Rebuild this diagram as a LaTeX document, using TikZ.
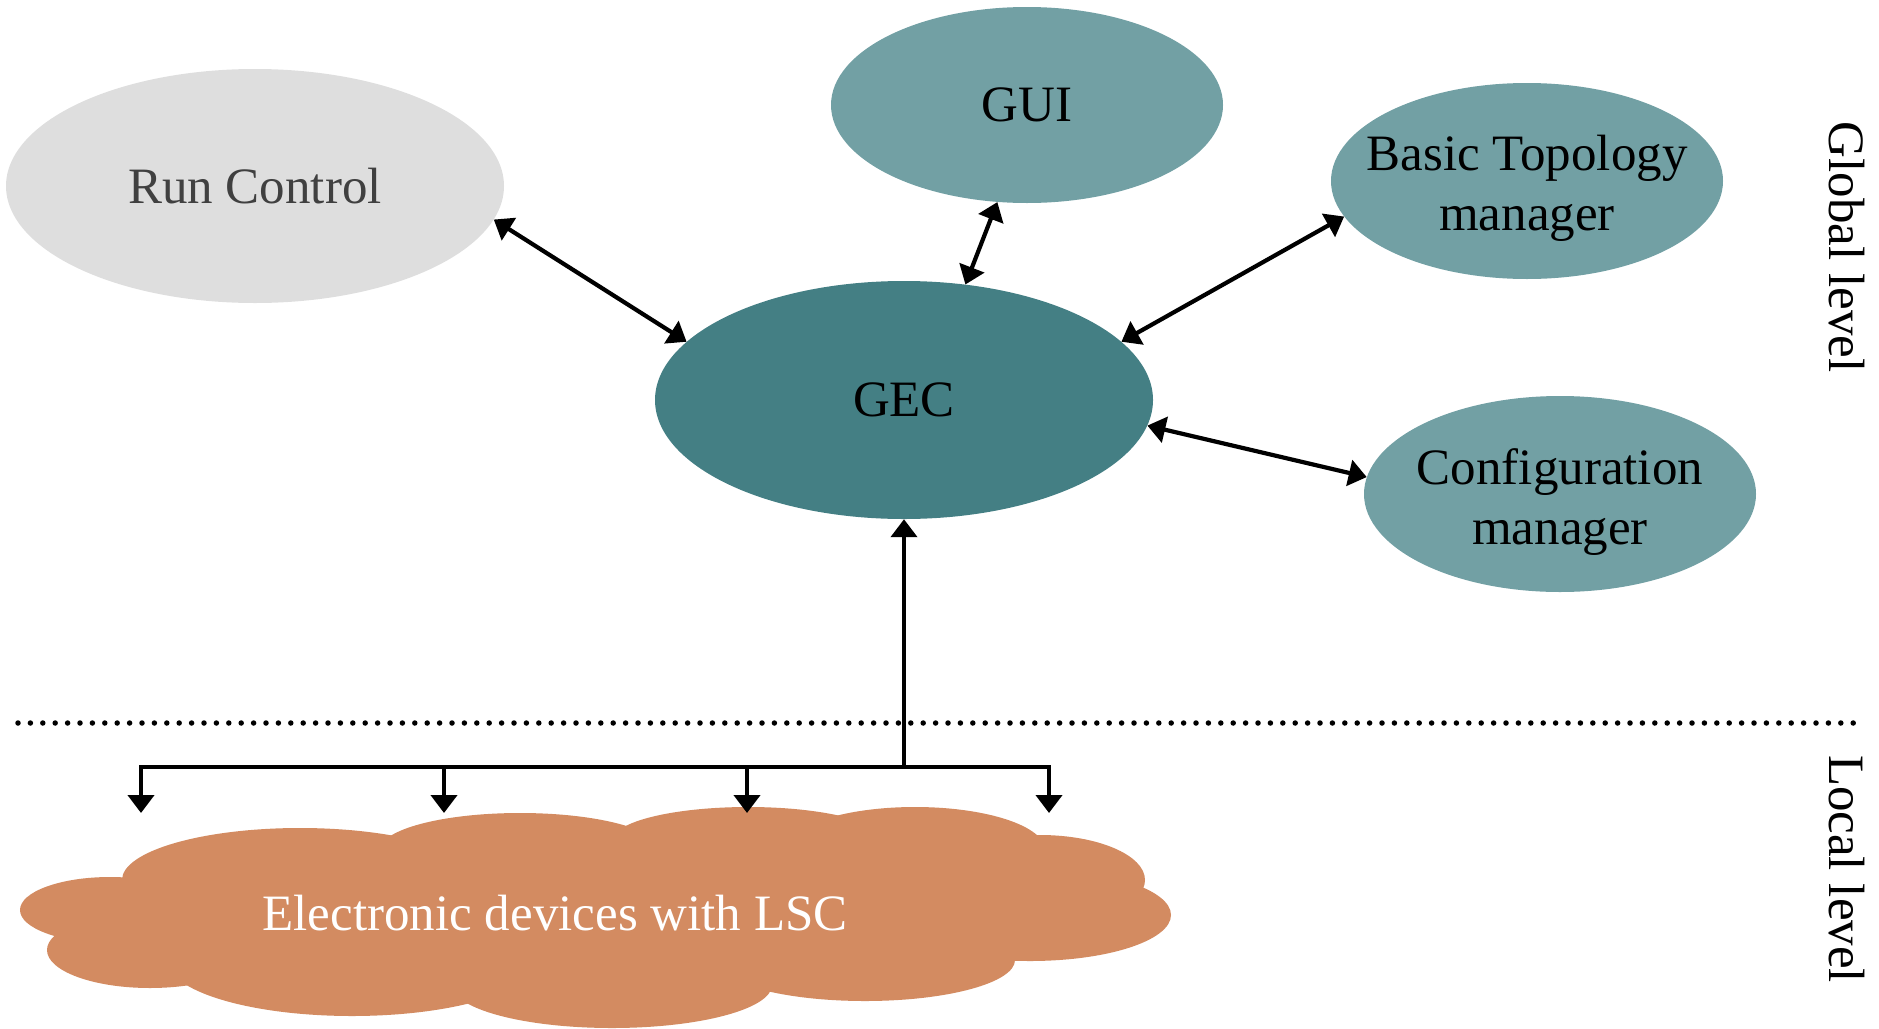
\documentclass[tikz,border=0pt]{standalone}
\usepackage{fontspec}
\setmainfont{Liberation Serif}
\usetikzlibrary{shapes.geometric,arrows.meta}
\definecolor{rcgray}{HTML}{DEDEDE}
\definecolor{rctext}{HTML}{404040}
\definecolor{tealL}{HTML}{72A0A4}
\definecolor{tealD}{HTML}{447F84}
\definecolor{cloudc}{HTML}{D38B61}
\tikzset{
  bigfont/.style={font=\fontsize{51}{60}\selectfont},
  ell/.style={ellipse, draw=none, inner sep=0pt, align=center, bigfont},
  conn/.style={line width=4.2pt, {Triangle[length=18pt,width=26pt]}-{Triangle[length=18pt,width=26pt]}},
  oneway/.style={line width=4.2pt, -{Triangle[length=18pt,width=26pt]}},
  plain/.style={line width=4.2pt},
  lobe/.style={fill=cloudc}
}
\begin{document}
\begin{tikzpicture}[x=1pt,y=-1pt]
\path[use as bounding box] (0,0) rectangle (1879,1028);

% nodes
\node[ell, fill=rcgray, text=rctext, minimum width=498pt, minimum height=234pt] (rc) at (255,186) {Run Control};
\node[ell, fill=tealL, minimum width=392pt, minimum height=196pt] (gui) at (1027,105) {GUI};
\node[ell, fill=tealL, minimum width=392pt, minimum height=196pt,
      label={[bigfont, align=center, yshift=-7pt]center:Basic Topology\\manager}] (btm) at (1527,181) {};
\node[ell, fill=tealD, minimum width=498pt, minimum height=238pt] (gec) at (904,400) {\raisebox{-3pt}{GEC}};
\node[ell, fill=tealL, minimum width=392pt, minimum height=196pt,
      label={[bigfont, align=center, yshift=-8pt]center:Configuration\\manager}] (cfg) at (1560,494) {};

% connectors
\draw[conn] (rc.-8) -- (gec.165);
\draw[conn] (gui.-107) -- (gec.62);
\draw[conn] (btm.-169) -- (gec.15);
\draw[conn] (cfg.175) -- (gec.-6);

% level separator
\coordinate (dl) at (18,723);
\coordinate (dr) at (1865,723);
\draw[line width=5.5pt, line cap=round, dash pattern=on 0pt off 12.4pt] (dl) -- (dr);

% cloud
\fill[lobe] (595,910) ellipse [x radius=450, y radius=75];
\fill[lobe] (300,880) ellipse [x radius=178, y radius=52];
\fill[lobe] (520,850) ellipse [x radius=140, y radius=37];
\fill[lobe] (748,840) ellipse [x radius=135, y radius=33];
\fill[lobe] (915,850) ellipse [x radius=130, y radius=43];
\fill[lobe] (1040,880) ellipse [x radius=105, y radius=45];
\fill[lobe] (1030,915) ellipse [x radius=141, y radius=46];
\fill[lobe] (865,960) ellipse [x radius=150, y radius=41];
\fill[lobe] (612,985) ellipse [x radius=160, y radius=43];
\fill[lobe] (352,960) ellipse [x radius=185, y radius=56];
\fill[lobe] (150,950) ellipse [x radius=103, y radius=38];
\fill[lobe] (110,910) ellipse [x radius=90, y radius=33];
\node[bigfont, text=white, inner sep=0pt] (cloud) at (555,913) {Electronic devices with LSC};

% bus
\coordinate (busM) at (904,767);
\coordinate (busL) at (141,767);
\coordinate (busR) at (1049,767);
\coordinate (t1) at (141,813);
\coordinate (t2) at (444,813);
\coordinate (t3) at (747,813);
\coordinate (t4) at (1049,813);
\coordinate (b2) at (444,767);
\coordinate (b3) at (747,767);
\draw[oneway] (busM) -- (gec.south);
\draw[plain, line cap=rect] (busL) -- (busR);
\draw[oneway] (busL) -- (t1);
\draw[oneway] (b2) -- (t2);
\draw[oneway] (b3) -- (t3);
\draw[oneway] (busR) -- (t4);

% level labels
\node[bigfont, rotate=-90, inner sep=0pt] (glob) at (1847,247) {Global level};
\node[bigfont, rotate=-90, inner sep=0pt] (loc) at (1847,869) {Local level};
\end{tikzpicture}
\end{document}
